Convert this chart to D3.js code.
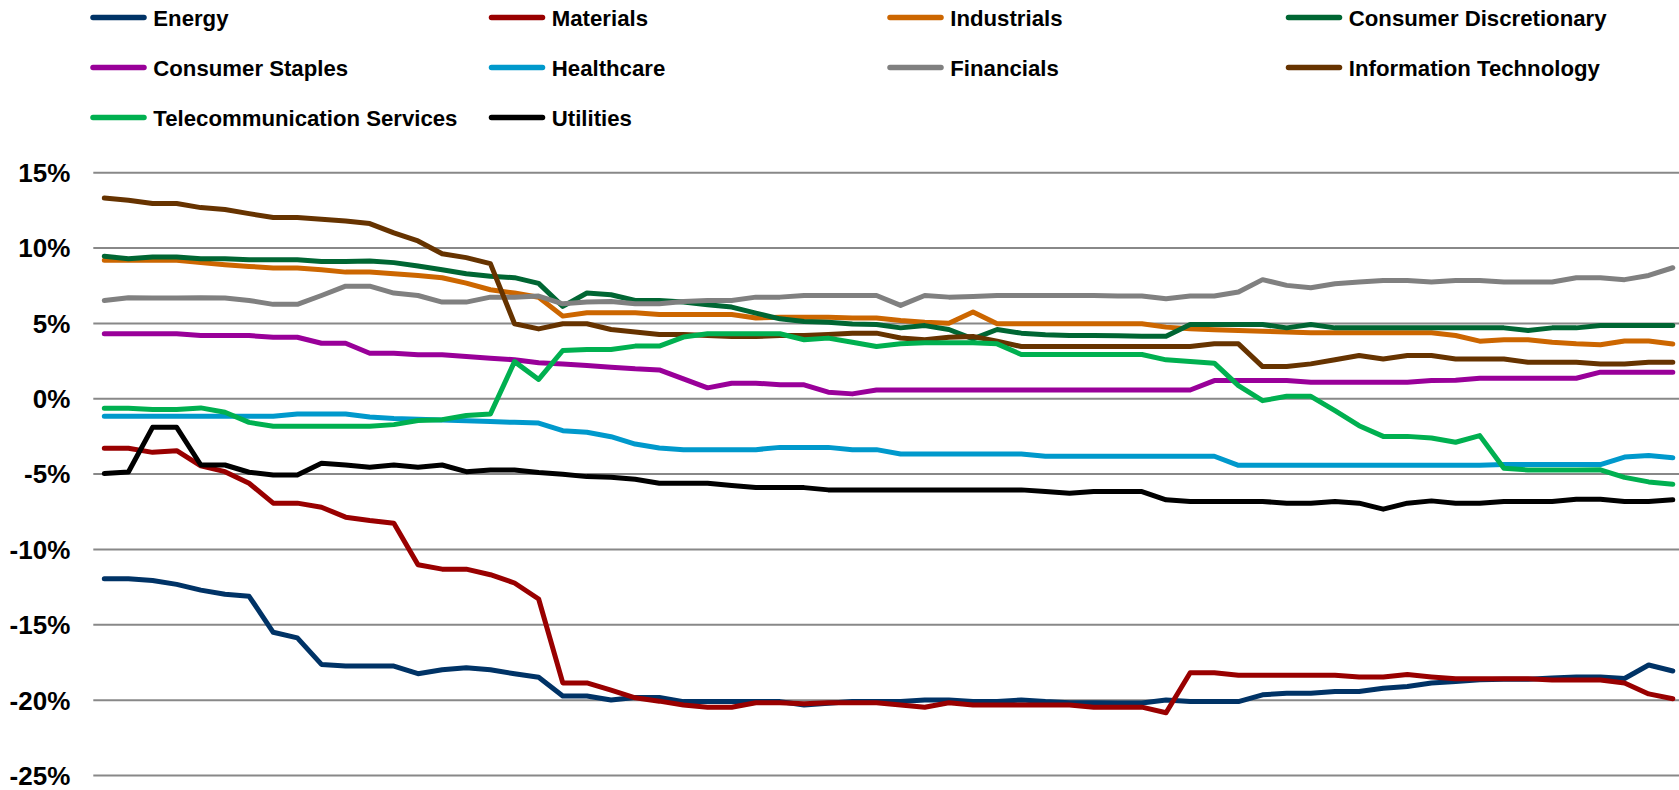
<!DOCTYPE html>
<html>
<head>
<meta charset="utf-8">
<script src="https://cdn.jsdelivr.net/npm/d3@7"></script>
<style>
  html, body { margin: 0; padding: 0; background: #ffffff; }
  svg { display: block; }
  text { font-family: "Liberation Sans", Arial, sans-serif; font-weight: bold; fill: #000; }
</style>
</head>
<body>
<svg id="chart" width="1679" height="790"></svg>
<script>
// Sector relative performance (%), one value per period
const energy = [-11.98,-11.98,-12.09,-12.35,-12.73,-13.01,-13.14,-15.53,-15.9,-17.66,-17.77,-17.77,-17.77,-18.28,-18.02,-17.88,-18.02,-18.28,-18.52,-19.76,-19.76,-20.02,-19.85,-19.85,-20.13,-20.13,-20.13,-20.13,-20.13,-20.35,-20.24,-20.13,-20.13,-20.13,-20.02,-20.02,-20.13,-20.13,-20.02,-20.13,-20.2,-20.2,-20.22,-20.22,-20.02,-20.13,-20.13,-20.13,-19.68,-19.57,-19.57,-19.46,-19.46,-19.24,-19.13,-18.9,-18.79,-18.68,-18.64,-18.64,-18.57,-18.5,-18.5,-18.6,-17.7,-18.1];
const materials = [-3.32,-3.32,-3.59,-3.48,-4.49,-4.87,-5.64,-6.96,-6.96,-7.23,-7.89,-8.11,-8.29,-11.05,-11.34,-11.34,-11.71,-12.26,-13.32,-18.89,-18.89,-19.37,-19.88,-20.1,-20.36,-20.5,-20.5,-20.21,-20.21,-20.28,-20.21,-20.21,-20.21,-20.36,-20.5,-20.21,-20.36,-20.36,-20.36,-20.36,-20.36,-20.5,-20.5,-20.5,-20.87,-18.22,-18.22,-18.38,-18.38,-18.38,-18.38,-18.38,-18.49,-18.49,-18.33,-18.49,-18.62,-18.62,-18.62,-18.62,-18.7,-18.7,-18.7,-18.9,-19.62,-19.94];
const industrials = [9.15,9.15,9.15,9.15,9.0,8.86,8.75,8.64,8.64,8.53,8.37,8.37,8.26,8.15,8.0,7.64,7.2,6.98,6.7,5.45,5.67,5.67,5.67,5.56,5.56,5.56,5.56,5.32,5.38,5.38,5.38,5.32,5.32,5.16,5.05,4.98,5.72,4.94,4.94,4.94,4.94,4.94,4.94,4.94,4.72,4.61,4.54,4.5,4.45,4.39,4.34,4.34,4.34,4.34,4.34,4.34,4.16,3.79,3.88,3.88,3.72,3.61,3.55,3.8,3.8,3.6];
const consumerDiscretionary = [9.42,9.26,9.37,9.37,9.26,9.26,9.19,9.19,9.19,9.08,9.08,9.11,9.0,8.77,8.53,8.26,8.09,8.0,7.62,6.1,6.98,6.87,6.49,6.49,6.38,6.2,6.05,5.65,5.27,5.09,5.04,4.93,4.89,4.67,4.82,4.56,3.94,4.56,4.32,4.21,4.16,4.16,4.14,4.12,4.12,4.89,4.89,4.89,4.89,4.67,4.89,4.67,4.67,4.67,4.67,4.67,4.67,4.67,4.67,4.5,4.67,4.67,4.82,4.82,4.82,4.82];
const consumerStaples = [4.28,4.28,4.28,4.28,4.16,4.16,4.16,4.05,4.05,3.65,3.65,2.99,2.99,2.88,2.88,2.77,2.66,2.55,2.35,2.28,2.17,2.06,1.95,1.88,1.28,0.69,1.0,1.0,0.89,0.89,0.4,0.29,0.55,0.55,0.55,0.55,0.55,0.55,0.55,0.55,0.55,0.55,0.55,0.55,0.55,0.55,1.17,1.17,1.17,1.17,1.06,1.06,1.06,1.06,1.06,1.17,1.2,1.33,1.33,1.33,1.33,1.33,1.73,1.73,1.73,1.73];
const healthcare = [-1.2,-1.2,-1.2,-1.2,-1.2,-1.2,-1.2,-1.2,-1.05,-1.05,-1.05,-1.25,-1.35,-1.4,-1.45,-1.5,-1.55,-1.6,-1.65,-2.15,-2.26,-2.55,-3.04,-3.3,-3.41,-3.41,-3.41,-3.41,-3.26,-3.26,-3.26,-3.41,-3.41,-3.7,-3.7,-3.7,-3.7,-3.7,-3.7,-3.85,-3.85,-3.85,-3.85,-3.85,-3.85,-3.85,-3.85,-4.45,-4.45,-4.45,-4.45,-4.45,-4.45,-4.45,-4.45,-4.45,-4.45,-4.45,-4.4,-4.4,-4.4,-4.4,-4.4,-3.9,-3.8,-3.95];
const financials = [6.49,6.67,6.65,6.65,6.67,6.65,6.49,6.23,6.23,6.82,7.44,7.44,6.98,6.82,6.38,6.38,6.71,6.71,6.78,6.27,6.38,6.42,6.27,6.27,6.42,6.49,6.49,6.71,6.71,6.82,6.82,6.82,6.82,6.16,6.82,6.71,6.76,6.82,6.82,6.82,6.82,6.82,6.78,6.78,6.6,6.78,6.78,7.05,7.87,7.49,7.33,7.6,7.71,7.82,7.82,7.71,7.82,7.82,7.71,7.71,7.71,8.0,8.0,7.87,8.15,8.66];
const informationTechnology = [13.29,13.14,12.92,12.92,12.65,12.52,12.25,11.99,11.99,11.88,11.76,11.59,10.97,10.44,9.59,9.33,8.93,4.94,4.6,4.94,4.94,4.56,4.39,4.23,4.23,4.16,4.1,4.1,4.16,4.16,4.23,4.32,4.32,4.0,3.88,4.05,4.1,3.79,3.43,3.43,3.43,3.43,3.43,3.43,3.43,3.43,3.61,3.61,2.1,2.1,2.28,2.55,2.84,2.61,2.84,2.84,2.61,2.61,2.61,2.39,2.39,2.39,2.28,2.28,2.39,2.39];
const telecommunicationServices = [-0.66,-0.66,-0.75,-0.75,-0.64,-0.93,-1.6,-1.86,-1.86,-1.86,-1.86,-1.86,-1.75,-1.48,-1.42,-1.15,-1.04,2.43,1.25,3.17,3.24,3.24,3.46,3.46,4.06,4.28,4.28,4.28,4.28,3.88,3.99,3.72,3.43,3.61,3.68,3.68,3.68,3.61,2.9,2.9,2.9,2.9,2.9,2.9,2.55,2.44,2.33,0.84,-0.16,0.13,0.13,-0.82,-1.82,-2.53,-2.53,-2.64,-2.92,-2.48,-4.65,-4.76,-4.76,-4.76,-4.75,-5.25,-5.55,-5.7];
const utilities = [-5.0,-4.89,-1.93,-1.93,-4.43,-4.43,-4.91,-5.09,-5.09,-4.32,-4.43,-4.58,-4.43,-4.58,-4.43,-4.87,-4.76,-4.76,-4.92,-5.04,-5.2,-5.24,-5.38,-5.64,-5.64,-5.64,-5.79,-5.93,-5.93,-5.93,-6.08,-6.08,-6.08,-6.08,-6.08,-6.08,-6.08,-6.08,-6.08,-6.19,-6.3,-6.19,-6.19,-6.19,-6.74,-6.85,-6.85,-6.85,-6.85,-6.96,-6.96,-6.85,-6.96,-7.36,-6.96,-6.81,-6.96,-6.96,-6.85,-6.85,-6.85,-6.7,-6.7,-6.85,-6.85,-6.74];

const seriesNames = ["Energy", "Materials", "Industrials", "Consumer Discretionary",
  "Consumer Staples", "Healthcare", "Financials", "Information Technology",
  "Telecommunication Services", "Utilities"];
const seriesColors = ["#003366", "#990000", "#cc6600", "#006633",
  "#990099", "#0099cc", "#808080", "#663300", "#00b050", "#000000"];
const seriesValues = [energy, materials, industrials, consumerDiscretionary,
  consumerStaples, healthcare, financials, informationTechnology,
  telecommunicationServices, utilities];

const yTicks = [15, 10, 5, 0, -5, -10, -15, -20, -25];

const series = seriesNames.map((name, i) => ({ name, color: seriesColors[i], values: seriesValues[i] }));

const svg = d3.select("#chart");
svg.append("rect").attr("width", 1679).attr("height", 790).attr("fill", "#fff");

const periods = d3.range(energy.length);
const x = d3.scalePoint().domain(periods).range([104.3, 1672.8]);
const y = d3.scaleLinear().domain([-25, 15]).range([775, 172.2]);

// horizontal gridlines and percentage labels
const yAxis = d3.axisLeft(y).tickValues(yTicks)
  .tickSize(-(1679 - 93.3)).tickPadding(23)
  .tickFormat(d => d + "%");
const gAxis = svg.append("g").attr("transform", "translate(93.3,0)").call(yAxis);
gAxis.select(".domain").remove();
gAxis.selectAll(".tick line").attr("stroke", "#888888").attr("stroke-width", 2);
gAxis.selectAll(".tick text")
  .attr("fill", "#000")
  .style("font-size", "26px")
  .style("font-weight", "bold")
  .style("font-family", "'Liberation Sans', Arial, sans-serif")
  .attr("dy", "0.36em");

// series lines
const line = d3.line().x((d, i) => x(i)).y(d => y(d));
svg.append("g").selectAll("path").data(series).join("path")
  .attr("d", d => line(d.values))
  .attr("fill", "none")
  .attr("stroke", d => d.color)
  .attr("stroke-width", 5)
  .attr("stroke-linejoin", "round")
  .attr("stroke-linecap", "round");

// legend: four columns, three rows
const legend = svg.append("g").selectAll("g").data(series).join("g")
  .attr("transform", (d, i) => `translate(${90 + (i % 4) * 398.5},${17.6 + Math.floor(i / 4) * 49.9})`);
legend.append("line")
  .attr("x1", 3).attr("x2", 54).attr("y1", 0).attr("y2", 0)
  .attr("stroke", d => d.color).attr("stroke-width", 5.5).attr("stroke-linecap", "round");
legend.append("text")
  .attr("x", 63.3).attr("y", 8.4)
  .style("font-size", "22.2px")
  .text(d => d.name);
</script>
</body>
</html>
